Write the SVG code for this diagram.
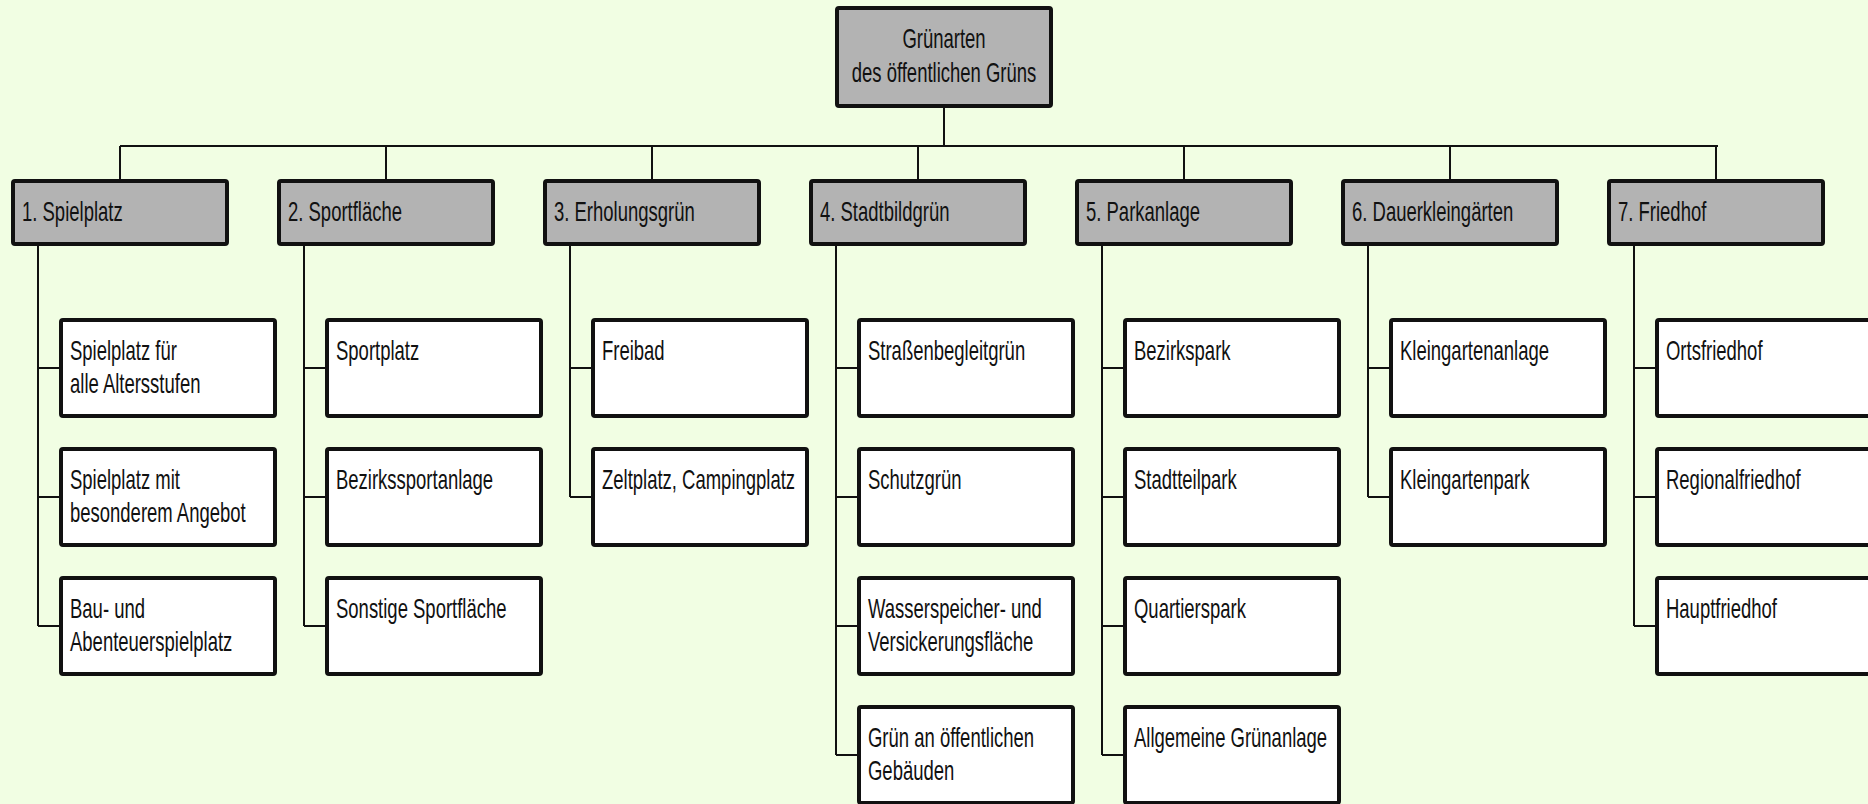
<svg xmlns="http://www.w3.org/2000/svg" width="1868" height="804" viewBox="0 0 1868 804">
<style>
.bg{fill:#F1FEE3}
.box{stroke:#111;stroke-width:4;stroke-linejoin:round}
.gray{fill:#B3B3B3}
.white{fill:#FFFFFF}
.t{font-family:"Liberation Sans",Arial,sans-serif;font-size:28px;fill:#111}
.c{text-anchor:middle}
#connectors path{fill:none;stroke:#111;stroke-width:2}
</style>
<rect class="bg" x="0" y="0" width="1868" height="804"/>
<g id="connectors">
<path d="M944 108V146M120 146H1718M120 146V179M386 146V179M652 146V179M918 146V179M1184 146V179M1450 146V179M1716 146V179"/>
<path d="M38 246V626M38 368H59M38 497H59M38 626H59"/>
<path d="M304 246V626M304 368H325M304 497H325M304 626H325"/>
<path d="M570 246V497M570 368H591M570 497H591"/>
<path d="M836 246V755M836 368H857M836 497H857M836 626H857M836 755H857"/>
<path d="M1102 246V755M1102 368H1123M1102 497H1123M1102 626H1123M1102 755H1123"/>
<path d="M1368 246V497M1368 368H1389M1368 497H1389"/>
<path d="M1634 246V626M1634 368H1655M1634 497H1655M1634 626H1655"/>
</g>
<g id="root">
<rect class="box gray" x="837" y="8" width="214" height="98" rx="2"/>
<text class="t c" transform="translate(944,48) scale(0.66,1)"><tspan x="0" y="0">Grünarten</tspan><tspan x="0" y="34">des öffentlichen Grüns</tspan></text>
</g>
<g id="p1"><rect class="box gray" x="13" y="181" width="214" height="63" rx="2"/><text class="t" transform="translate(22,221) scale(0.66,1)">1. Spielplatz</text></g>
<g id="p2"><rect class="box gray" x="279" y="181" width="214" height="63" rx="2"/><text class="t" transform="translate(288,221) scale(0.66,1)">2. Sportfläche</text></g>
<g id="p3"><rect class="box gray" x="545" y="181" width="214" height="63" rx="2"/><text class="t" transform="translate(554,221) scale(0.66,1)">3. Erholungsgrün</text></g>
<g id="p4"><rect class="box gray" x="811" y="181" width="214" height="63" rx="2"/><text class="t" transform="translate(820,221) scale(0.66,1)">4. Stadtbildgrün</text></g>
<g id="p5"><rect class="box gray" x="1077" y="181" width="214" height="63" rx="2"/><text class="t" transform="translate(1086,221) scale(0.66,1)">5. Parkanlage</text></g>
<g id="p6"><rect class="box gray" x="1343" y="181" width="214" height="63" rx="2"/><text class="t" transform="translate(1352,221) scale(0.66,1)">6. Dauerkleingärten</text></g>
<g id="p7"><rect class="box gray" x="1609" y="181" width="214" height="63" rx="2"/><text class="t" transform="translate(1618,221) scale(0.66,1)">7. Friedhof</text></g>

<g id="c1a"><rect class="box white" x="61" y="320" width="214" height="96" rx="2"/><text class="t" transform="translate(70,360) scale(0.66,1)"><tspan x="0" y="0">Spielplatz für</tspan><tspan x="0" y="33">alle Altersstufen</tspan></text></g>
<g id="c1b"><rect class="box white" x="61" y="449" width="214" height="96" rx="2"/><text class="t" transform="translate(70,489) scale(0.66,1)"><tspan x="0" y="0">Spielplatz mit</tspan><tspan x="0" y="33">besonderem Angebot</tspan></text></g>
<g id="c1c"><rect class="box white" x="61" y="578" width="214" height="96" rx="2"/><text class="t" transform="translate(70,618) scale(0.66,1)"><tspan x="0" y="0">Bau- und</tspan><tspan x="0" y="33">Abenteuerspielplatz</tspan></text></g>

<g id="c2a"><rect class="box white" x="327" y="320" width="214" height="96" rx="2"/><text class="t" transform="translate(336,360) scale(0.66,1)">Sportplatz</text></g>
<g id="c2b"><rect class="box white" x="327" y="449" width="214" height="96" rx="2"/><text class="t" transform="translate(336,489) scale(0.66,1)">Bezirkssportanlage</text></g>
<g id="c2c"><rect class="box white" x="327" y="578" width="214" height="96" rx="2"/><text class="t" transform="translate(336,618) scale(0.66,1)">Sonstige Sportfläche</text></g>

<g id="c3a"><rect class="box white" x="593" y="320" width="214" height="96" rx="2"/><text class="t" transform="translate(602,360) scale(0.66,1)">Freibad</text></g>
<g id="c3b"><rect class="box white" x="593" y="449" width="214" height="96" rx="2"/><text class="t" transform="translate(602,489) scale(0.66,1)">Zeltplatz, Campingplatz</text></g>

<g id="c4a"><rect class="box white" x="859" y="320" width="214" height="96" rx="2"/><text class="t" transform="translate(868,360) scale(0.66,1)">Straßenbegleitgrün</text></g>
<g id="c4b"><rect class="box white" x="859" y="449" width="214" height="96" rx="2"/><text class="t" transform="translate(868,489) scale(0.66,1)">Schutzgrün</text></g>
<g id="c4c"><rect class="box white" x="859" y="578" width="214" height="96" rx="2"/><text class="t" transform="translate(868,618) scale(0.66,1)"><tspan x="0" y="0">Wasserspeicher- und</tspan><tspan x="0" y="33">Versickerungsfläche</tspan></text></g>
<g id="c4d"><rect class="box white" x="859" y="707" width="214" height="96" rx="2"/><text class="t" transform="translate(868,747) scale(0.66,1)"><tspan x="0" y="0">Grün an öffentlichen</tspan><tspan x="0" y="33">Gebäuden</tspan></text></g>

<g id="c5a"><rect class="box white" x="1125" y="320" width="214" height="96" rx="2"/><text class="t" transform="translate(1134,360) scale(0.66,1)">Bezirkspark</text></g>
<g id="c5b"><rect class="box white" x="1125" y="449" width="214" height="96" rx="2"/><text class="t" transform="translate(1134,489) scale(0.66,1)">Stadtteilpark</text></g>
<g id="c5c"><rect class="box white" x="1125" y="578" width="214" height="96" rx="2"/><text class="t" transform="translate(1134,618) scale(0.66,1)">Quartierspark</text></g>
<g id="c5d"><rect class="box white" x="1125" y="707" width="214" height="96" rx="2"/><text class="t" transform="translate(1134,747) scale(0.66,1)">Allgemeine Grünanlage</text></g>

<g id="c6a"><rect class="box white" x="1391" y="320" width="214" height="96" rx="2"/><text class="t" transform="translate(1400,360) scale(0.66,1)">Kleingartenanlage</text></g>
<g id="c6b"><rect class="box white" x="1391" y="449" width="214" height="96" rx="2"/><text class="t" transform="translate(1400,489) scale(0.66,1)">Kleingartenpark</text></g>

<g id="c7a"><rect class="box white" x="1657" y="320" width="214" height="96" rx="2"/><text class="t" transform="translate(1666,360) scale(0.66,1)">Ortsfriedhof</text></g>
<g id="c7b"><rect class="box white" x="1657" y="449" width="214" height="96" rx="2"/><text class="t" transform="translate(1666,489) scale(0.66,1)">Regionalfriedhof</text></g>
<g id="c7c"><rect class="box white" x="1657" y="578" width="214" height="96" rx="2"/><text class="t" transform="translate(1666,618) scale(0.66,1)">Hauptfriedhof</text></g>
</svg>
